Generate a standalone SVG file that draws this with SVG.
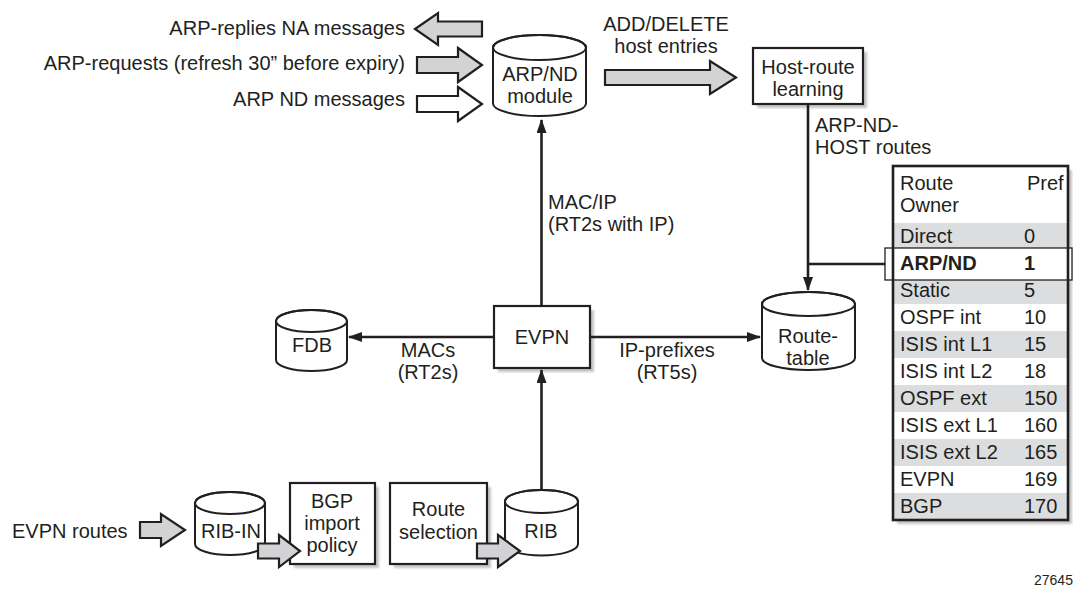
<svg xmlns="http://www.w3.org/2000/svg" width="1073" height="592" viewBox="0 0 1073 592">
<style>
text{font-family:"Liberation Sans",Arial,Helvetica,sans-serif;font-size:20px;fill:#231f20}
.c{text-anchor:middle}
.e{text-anchor:end}
.b{font-weight:bold}
.box{fill:#fff;stroke:#231f20;stroke-width:2.2}
.sh{fill:#c4c4c4;filter:url(#blur)}
.cyl{fill:#fff;stroke:#231f20;stroke-width:2}
.cyt{fill:none;stroke:#231f20;stroke-width:2}
.ga{fill:#d2d3d5;stroke:#231f20;stroke-width:2.2}
.wa{fill:#fff;stroke:#231f20;stroke-width:2.2}
.ln{fill:none;stroke:#231f20;stroke-width:2.6}
.band{fill:#dcdddf}
.small{font-size:14px}
</style>
<defs>
<marker id="ah" viewBox="0 0 14 10" refX="13" refY="5" markerWidth="14" markerHeight="10" markerUnits="userSpaceOnUse" orient="auto">
<path d="M0,0 L14,5 L0,10 Z" fill="#231f20"/>
</marker>
<filter id="blur" x="-10%" y="-10%" width="130%" height="130%"><feGaussianBlur stdDeviation="1.3"/></filter>
</defs>

<g id="inputs">
<text class="e" x="405" y="35">ARP-replies NA messages</text>
<text class="e" x="405" y="70">ARP-requests (refresh 30” before expiry)</text>
<text class="e" x="405" y="106">ARP ND messages</text>
<polygon class="ga" points="415,29 438,13 438,21.5 482,21.5 482,36.5 438,36.5 438,45"/>
<polygon class="ga" points="417,57 458,57 458,48 482,65 458,82 458,73 417,73"/>
<polygon class="wa" points="417,96 458,96 458,87 482,104 458,121 458,112 417,112"/>
</g>

<g id="arpnd">
<path class="cyl" d="M493,47.5 A46.5,12.5 0 0 1 586,47.5 L586,103.5 A46.5,12.5 0 0 1 493,103.5 Z"/>
<ellipse class="cyt" cx="539.5" cy="47.5" rx="46.5" ry="12.5"/>
<text class="c" x="540" y="81">ARP/ND</text>
<text class="c" x="540" y="103">module</text>
</g>

<g id="adddelete">
<text class="c" x="666" y="31">ADD/DELETE</text>
<text class="c" x="666" y="53">host entries</text>
<polygon class="ga" points="605,70 710,70 710,61 736,77.5 710,94 710,85 605,85"/>
</g>

<g id="hostroute">
<rect class="sh" x="757" y="52" width="110" height="56"/>
<rect class="box" x="753" y="48" width="110" height="56"/>
<text class="c" x="808" y="74">Host-route</text>
<text class="c" x="808" y="96">learning</text>
</g>

<g id="evpn">
<rect class="sh" x="498" y="310" width="96" height="62"/>
<rect class="box" x="494" y="306" width="96" height="62"/>
<text class="c" x="542" y="344">EVPN</text>
</g>

<g id="fdb">
<path class="cyl" d="M276,321 A35.5,11 0 0 1 347,321 L347,360 A35.5,11 0 0 1 276,360 Z"/>
<ellipse class="cyt" cx="311.5" cy="321" rx="35.5" ry="11"/>
<text class="c" x="312" y="352">FDB</text>
</g>

<g id="routetable">
<path class="cyl" d="M762,304 A46.5,12 0 0 1 855,304 L855,358 A46.5,12 0 0 1 762,358 Z"/>
<ellipse class="cyt" cx="808.5" cy="304" rx="46.5" ry="12"/>
<text class="c" x="808" y="343">Route-</text>
<text class="c" x="808" y="365">table</text>
</g>

<g id="evpnroutes">
<text x="12" y="538">EVPN routes</text>
<polygon class="ga" points="140,522 161,522 161,514 185,530 161,546 161,538 140,538"/>
</g>

<g id="ribin">
<path class="cyl" d="M195,503 A35,11 0 0 1 265,503 L265,544 A35,11 0 0 1 195,544 Z"/>
<ellipse class="cyt" cx="230" cy="503" rx="35" ry="11"/>
<text class="c" x="231" y="538">RIB-IN</text>
</g>

<g id="bgppolicy">
<rect class="sh" x="294" y="487" width="85" height="81"/>
<rect class="box" x="290" y="483" width="85" height="81"/>
<text class="c" x="332" y="508">BGP</text>
<text class="c" x="332" y="530">import</text>
<text class="c" x="332" y="552">policy</text>
</g>

<g id="routeselection">
<rect class="sh" x="394" y="487" width="97" height="81"/>
<rect class="box" x="390" y="483" width="97" height="81"/>
<text class="c" x="438.5" y="516">Route</text>
<text class="c" x="438.5" y="539">selection</text>
</g>

<g id="rib">
<path class="cyl" d="M505,501.5 A36.5,11.5 0 0 1 578,501.5 L578,544 A36.5,11.5 0 0 1 505,544 Z"/>
<ellipse class="cyt" cx="541.5" cy="501.5" rx="36.5" ry="11.5"/>
<text class="c" x="541" y="538">RIB</text>
</g>

<g id="flowarrows">
<polygon class="ga" points="258,543.5 279,543.5 279,535 300,551 279,567 279,558.5 258,558.5"/>
<polygon class="ga" points="477,543.5 498,543.5 498,535 520,551 498,567 498,558.5 477,558.5"/>
</g>

<g id="routetable-prefs">
<rect class="sh" x="897" y="170" width="175" height="354"/>
<rect x="893" y="166" width="175" height="354" fill="#fff"/>
<rect class="band" x="893" y="223" width="175" height="27"/>
<rect class="band" x="893" y="277" width="175" height="27"/>
<rect class="band" x="893" y="331" width="175" height="27"/>
<rect class="band" x="893" y="385" width="175" height="27"/>
<rect class="band" x="893" y="439" width="175" height="27"/>
<rect class="band" x="893" y="493" width="175" height="27"/>
<rect x="885" y="248" width="187" height="32" fill="#fff" stroke="#231f20" stroke-width="1.3"/>
<rect x="893" y="166" width="175" height="354" fill="none" stroke="#231f20" stroke-width="2.6"/>
<text x="900" y="190">Route</text>
<text x="900" y="212">Owner</text>
<text x="1027" y="190">Pref</text>
<text x="900" y="243">Direct</text><text x="1024" y="243">0</text>
<text class="b" x="900" y="270">ARP/ND</text><text class="b" x="1024" y="270">1</text>
<text x="900" y="297">Static</text><text x="1024" y="297">5</text>
<text x="900" y="324">OSPF int</text><text x="1024" y="324">10</text>
<text x="900" y="351">ISIS int L1</text><text x="1024" y="351">15</text>
<text x="900" y="378">ISIS int L2</text><text x="1024" y="378">18</text>
<text x="900" y="405">OSPF ext</text><text x="1024" y="405">150</text>
<text x="900" y="432">ISIS ext L1</text><text x="1024" y="432">160</text>
<text x="900" y="459">ISIS ext L2</text><text x="1024" y="459">165</text>
<text x="900" y="486">EVPN</text><text x="1024" y="486">169</text>
<text x="900" y="513">BGP</text><text x="1024" y="513">170</text>
</g>

<g id="connectors">
<line class="ln" x1="541.5" y1="306" x2="541.5" y2="120" marker-end="url(#ah)"/>
<line class="ln" x1="494" y1="337" x2="349" y2="337" marker-end="url(#ah)"/>
<line class="ln" x1="590" y1="337" x2="760" y2="337" marker-end="url(#ah)"/>
<line class="ln" x1="541.5" y1="490" x2="541.5" y2="370" marker-end="url(#ah)"/>
<line class="ln" x1="808" y1="104" x2="808" y2="290" marker-end="url(#ah)"/>
<line class="ln" x1="808" y1="264" x2="885" y2="264"/>
</g>

<g id="labels">
<text x="548" y="209">MAC/IP</text>
<text x="548" y="231">(RT2s with IP)</text>
<text x="815" y="132">ARP-ND-</text>
<text x="815" y="154">HOST routes</text>
<text class="c" x="428" y="357">MACs</text>
<text class="c" x="428" y="379">(RT2s)</text>
<text class="c" x="667" y="357">IP-prefixes</text>
<text class="c" x="667" y="379">(RT5s)</text>
<text class="small" x="1034" y="585">27645</text>
</g>
</svg>
